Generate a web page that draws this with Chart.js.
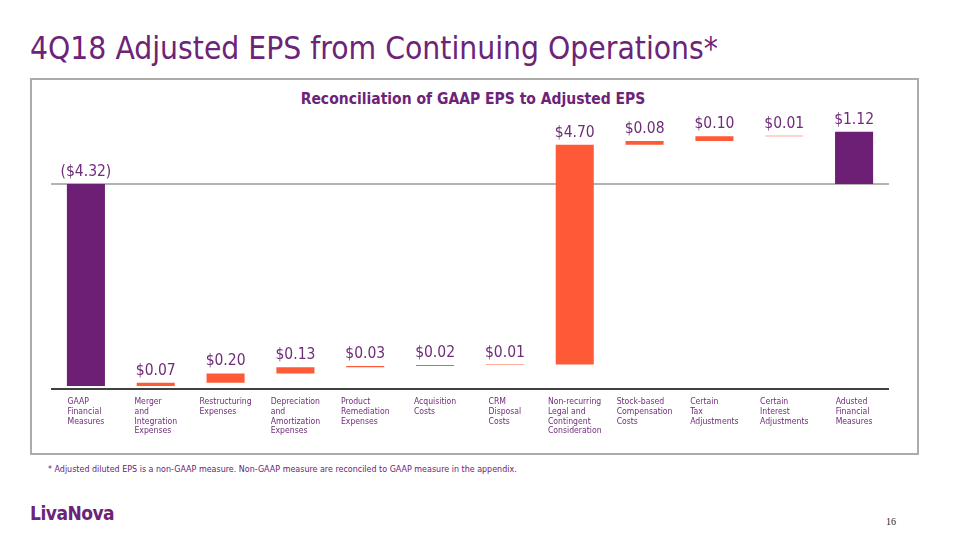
<!DOCTYPE html>
<html>
<head>
<meta charset="utf-8">
<script src="https://cdn.jsdelivr.net/npm/chart.js@4"></script>
<style>
  body { margin: 0; background: #fff; font-family: "DejaVu Sans Condensed", "DejaVu Sans", sans-serif; }
  #page { position: relative; width: 958px; height: 540px; overflow: hidden; }
  #title { position: absolute; left: 30px; top: 30px; font-size: 31.5px; color: #6c2378; white-space: nowrap; }
  #box { position: absolute; left: 30px; top: 78px; width: 885px; height: 373px; border: 2px solid #ababab; }
  #sub { position: absolute; left: 0; width: 946px; top: 90px; text-align: center; font-weight: bold; font-size: 15.5px; color: #6c2378; }
  #note { position: absolute; left: 48px; top: 464px; font-size: 8.9px; color: #6c2378; white-space: nowrap; }
  #logo { position: absolute; left: 30px; top: 502px; font-size: 19px; font-weight: bold; color: #6c2378; letter-spacing: -0.5px; }
  #pg { position: absolute; left: 886px; top: 516px; font-size: 10px; font-family: "Liberation Serif", serif; color: #222; }
  #wrap { position: absolute; left: 0; top: 0; width: 958px; height: 540px; }
</style>
</head>
<body>
<div id="page">
  <div id="box"></div>
  <div id="title">4Q18 Adjusted EPS from Continuing Operations*</div>
  <div id="sub">Reconciliation of GAAP EPS to Adjusted EPS</div>
  <div id="note">* Adjusted diluted EPS is a non-GAAP measure. Non-GAAP measure are reconciled to GAAP measure in the appendix.</div>
  <div id="logo">LivaNova</div>
  <div id="pg">16</div>
  <div id="wrap"><canvas id="c"></canvas></div>
</div>
<script>
  // categories (multi-line labels)
  const categories = [
    ['GAAP', 'Financial', 'Measures'],
    ['Merger', 'and', 'Integration', 'Expenses'],
    ['Restructuring', 'Expenses'],
    ['Depreciation', 'and', 'Amortization', 'Expenses'],
    ['Product', 'Remediation', 'Expenses'],
    ['Acquisition', 'Costs'],
    ['CRM', 'Disposal', 'Costs'],
    ['Non-recurring', 'Legal and', 'Contingent', 'Consideration'],
    ['Stock-based', 'Compensation', 'Costs'],
    ['Certain', 'Tax', 'Adjustments'],
    ['Certain', 'Interest', 'Adjustments'],
    ['Adusted', 'Financial', 'Measures']
  ];
  const gaapEps = -4.32;
  const adjustments = [0.07, 0.20, 0.13, 0.03, 0.02, 0.01, 4.70, 0.08, 0.10, 0.01];
  const adjustedEps = 1.12;

  const purple = '#6c1f74';
  const orange = '#ff5a38';
  const textColor = '#6f2c79';

  // floating bars for the waterfall
  const values = [gaapEps, ...adjustments, adjustedEps];
  const ranges = [[gaapEps, 0]];
  let run = gaapEps;
  adjustments.forEach(a => { ranges.push([run, run + a]); run += a; });
  ranges.push([0, adjustedEps]);
  const colors = values.map((v, i) => (i === 0 || i === values.length - 1) ? purple : orange);

  const fmt = v => v < 0 ? '($' + Math.abs(v).toFixed(2) + ')' : '$' + v.toFixed(2);

  const decor = {
    id: 'decor',
    beforeDatasetsDraw(chart) {
      const { ctx, chartArea, scales } = chart;
      const y0 = scales.y.getPixelForValue(0);
      ctx.save();
      ctx.strokeStyle = '#9a9a9a';
      ctx.lineWidth = 1.5;
      ctx.beginPath();
      ctx.moveTo(chartArea.left, y0);
      ctx.lineTo(chartArea.right, y0);
      ctx.stroke();
      ctx.restore();
    },
    afterDatasetsDraw(chart) {
      const { ctx, chartArea, scales } = chart;
      ctx.save();
      // bottom axis
      ctx.strokeStyle = '#000';
      ctx.lineWidth = 1.5;
      ctx.beginPath();
      ctx.moveTo(chartArea.left, chartArea.bottom);
      ctx.lineTo(chartArea.right, chartArea.bottom);
      ctx.stroke();
      // value labels
      ctx.fillStyle = textColor;
      ctx.font = '15.5px "DejaVu Sans Condensed", "DejaVu Sans"';
      ctx.textAlign = 'center';
      ctx.textBaseline = 'middle';
      const meta = chart.getDatasetMeta(0);
      meta.data.forEach((bar, i) => {
        const top = scales.y.getPixelForValue(Math.max(ranges[i][0], ranges[i][1]));
        ctx.fillText(fmt(values[i]), bar.x, top - 12);
      });
      // category labels: left-aligned block centred on the category
      ctx.font = '8.6px "DejaVu Sans Condensed", "DejaVu Sans"';
      ctx.textAlign = 'left';
      categories.forEach((lines, i) => {
        const cx = scales.x.getPixelForValue(i);
        const w = Math.max(...lines.map(l => ctx.measureText(l).width));
        lines.forEach((l, j) => ctx.fillText(l, cx - w / 2, chartArea.bottom + 13 + j * 9.7));
      });
      ctx.restore();
    }
  };

  new Chart(document.getElementById('c'), {
    type: 'bar',
    data: {
      labels: categories.map(c => c.join(' ')),
      datasets: [{
        data: ranges,
        backgroundColor: colors,
        borderSkipped: false,
        categoryPercentage: 1,
        barPercentage: 0.545
      }]
    },
    options: {
      responsive: true,
      maintainAspectRatio: false,
      animation: false,
      layout: { padding: { left: 51, right: 69, top: 110, bottom: 151 } },
      plugins: { legend: { display: false }, tooltip: { enabled: false } },
      scales: {
        x: { display: false },
        y: { display: false, min: -4.384, max: 1.583 }
      }
    },
    plugins: [decor]
  });
</script>
</body>
</html>
